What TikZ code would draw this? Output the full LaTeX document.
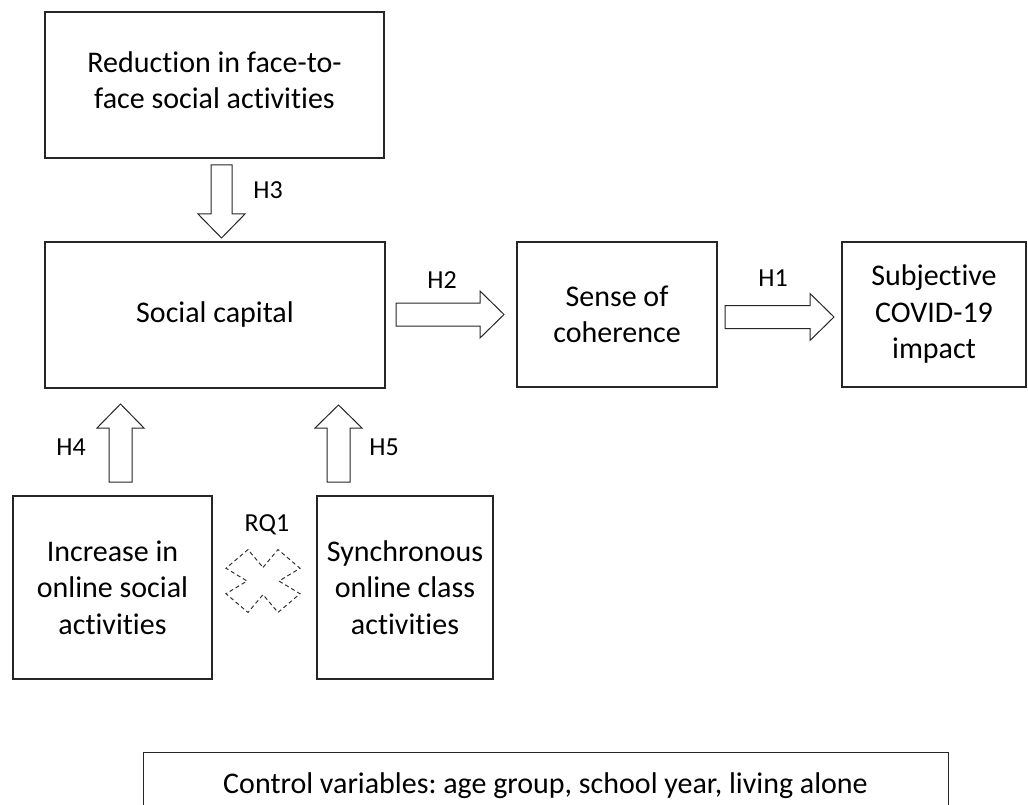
\documentclass[tikz,border=0pt]{standalone}
\usepackage{fontspec}
\setmainfont{Carlito}[Ligatures=NoCommon]
\usetikzlibrary{calc}
\frenchspacing
\tikzset{
  box/.style={draw=black!85, line width=1.3pt, inner sep=0pt},
  txt/.style={font=\fontsize{30}{36.5}\selectfont, align=center, inner sep=0pt},
  lbl/.style={font=\fontsize{26}{30}\selectfont, inner sep=0pt},
  barrow/.style={draw=black!85, line width=1pt, fill=white, line join=miter},
  crossx/.style={draw=black!80, line width=1pt, dash pattern=on 4pt off 3pt},
}
\begin{document}
\begin{tikzpicture}[x=1pt,y=-1pt]
\useasboundingbox (0,0) rectangle (1028,805);
\clip (0,0) rectangle (1028,805);
% boxes
\node[box, minimum width=339pt, minimum height=146pt] (red) at (214.5,85) {};
\node[txt] (redt) at (214.5,80) {Reduction in face-to-\\face social activities};
\node[box, minimum width=340pt, minimum height=146pt] (soc) at (215,315) {};
\node[txt] (soct) at (soc.center) {Social capital};
\node[box, minimum width=200pt, minimum height=145pt] (sen) at (617,314.5) {};
\node[txt] (sent) at (sen.center) {Sense of\\coherence};
\node[box, minimum width=184pt, minimum height=145pt] (sub) at (934,314.5) {};
\node[txt] (subt) at (sub.center) {Subjective\\COVID-19\\impact};
\node[box, minimum width=199pt, minimum height=183pt] (inc) at (112.5,587.5) {};
\node[txt] (inct) at (inc.center) {Increase in\\online social\\activities};
\node[box, minimum width=176pt, minimum height=183pt] (syn) at (405,587.5) {};
\node[txt] (synt) at (syn.center) {Synchronous\\online class\\activities};
\node[box, minimum width=805pt, minimum height=110pt, anchor=north west] (ctrl) at (143,752) {};
\node[txt, anchor=base] (ctrlt) at (545.5,793) {Control variables: age group, school year, living alone};
% block arrows
\draw[barrow] (211,165) -- (232,165) -- (232,214) -- (245,214) -- (221.5,238) -- (198,214) -- (211,214) -- cycle;
\draw[barrow] (396,303) -- (480,303) -- (480,291) -- (504,314.5) -- (480,338) -- (480,326) -- (396,326) -- cycle;
\draw[barrow] (725,305.5) -- (810,305.5) -- (810,293.5) -- (834,317) -- (810,340.5) -- (810,328.5) -- (725,328.5) -- cycle;
\draw[barrow] (109,482) -- (109,428) -- (97,428) -- (120.5,404) -- (144,428) -- (132,428) -- (132,482) -- cycle;
\draw[barrow] (327,482) -- (327,428) -- (315,428) -- (338.5,405) -- (362,428) -- (350,428) -- (350,482) -- cycle;
% labels
\node[lbl] (h3) at (268,190) {H3};
\node[lbl] (h2) at (442,280) {H2};
\node[lbl] (h1) at (773,278) {H1};
\node[lbl] (h4) at (71,447) {H4};
\node[lbl] (h5) at (384,447) {H5};
\node[lbl] (rq1) at (267,525) {RQ1};
% dashed cross
\begin{scope}[shift={(263,581)}, yscale=0.85]
\draw[crossx] (0,-16) -- (15,-37) -- (37,-15) -- (16,0) -- (37,15) -- (15,37) -- (0,16) -- (-15,37) -- (-37,15) -- (-16,0) -- (-37,-15) -- (-15,-37) -- cycle;
\end{scope}
\end{tikzpicture}
\end{document}
